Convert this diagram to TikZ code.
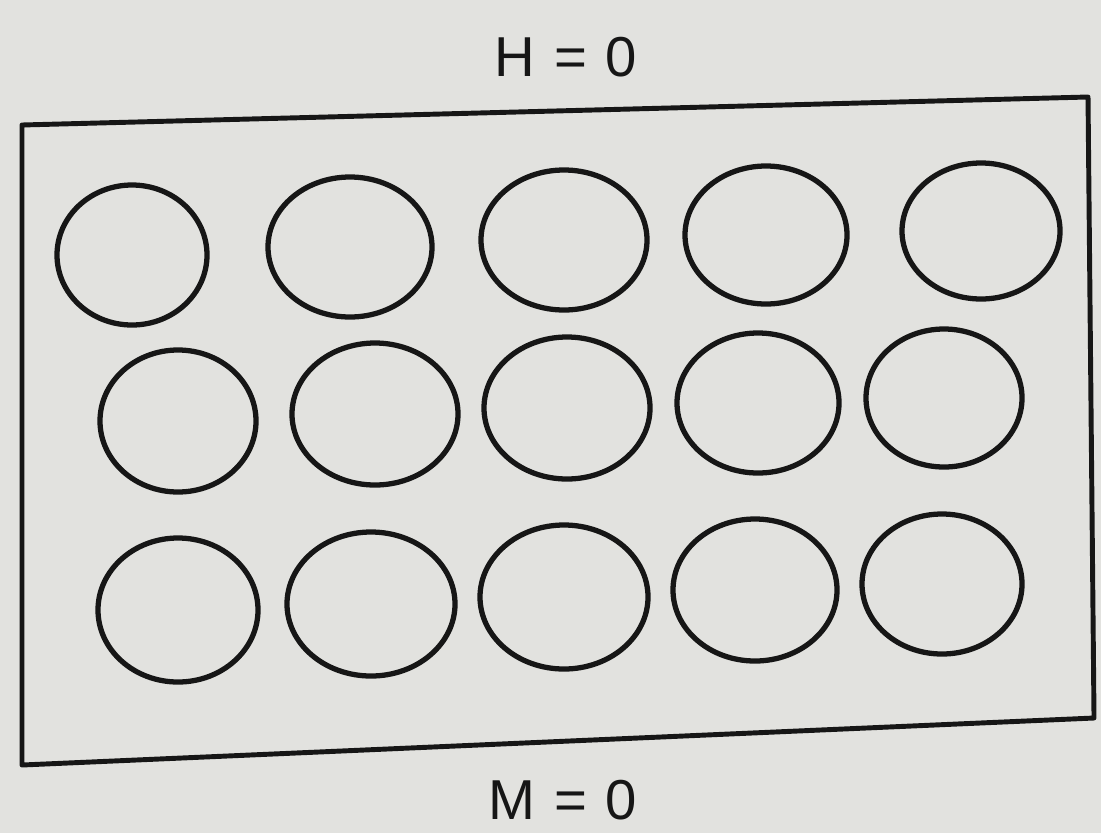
\documentclass[tikz,border=0pt]{standalone}
\usepackage{fontspec}
\setmainfont{Liberation Sans}
\definecolor{paper}{RGB}{226,226,223}
\definecolor{ink}{RGB}{22,22,22}
\tikzset{
  frame/.style={draw=ink, line width=1.4pt, line join=round},
  blob/.style={draw=ink, line width=1.5pt},
  lab/.style={font=\fontsize{16}{18}\selectfont, text=ink, inner sep=0pt},
}
\begin{document}
\begin{tikzpicture}[x=0.01cm, y=-0.01cm]
\fill[paper] (0,0) rectangle (1101,833);
\useasboundingbox (0,0) rectangle (1101,833);

% ---------------------------------------------------------------- frame
\coordinate (tl) at (22,125);
\coordinate (tr) at (1088,97);
\coordinate (br) at (1094,718);
\coordinate (bl) at (22,765);
\draw[frame] (tl) -- (tr) -- (br) -- (bl) -- cycle;

\node[lab] (htop) at (566,57) {H\,\,=\,\,0};
\node[lab] (mbot) at (563,800) {M\,\,=\,\,0};

% ---------------------------------------------------------------- ellipses, three rows of five
\foreach \x/\y/\rx/\ry in {
  132/255/75/70, 350/247/82/70, 564/240/83/70, 766/235/81/69, 981/231/79/68,
  178/421/78/71, 375/414/83/71, 567/408/83/71, 758/403/81/70, 944/398/78/69,
  178/610/80/72, 371/604/84/72, 564/597/84/72, 755/590/82/71, 942/584/80/70}
  \draw[blob] (\x,\y) ellipse [x radius=\rx, y radius=\ry];

\end{tikzpicture}
\end{document}
